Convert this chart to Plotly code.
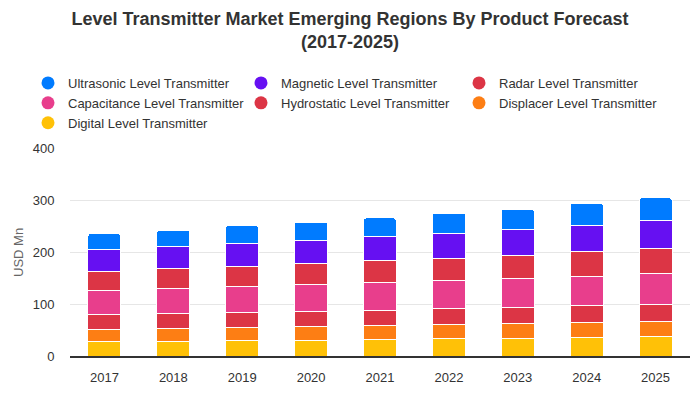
import plotly.graph_objects as go

years = ["2017", "2018", "2019", "2020", "2021", "2022", "2023", "2024", "2025"]

digital = [28.2, 27.6, 29.5, 29.5, 31.4, 34.0, 34.6, 36.5, 37.8]
displacer = [23.1, 25.6, 25.6, 26.9, 27.6, 26.9, 28.2, 28.2, 28.9]
hydrostatic = [28.8, 28.2, 28.9, 29.5, 28.8, 30.8, 30.8, 32.7, 32.7]
capacitance = [46.2, 48.1, 49.3, 51.3, 53.9, 53.8, 55.8, 55.8, 59.6]
radar = [36.5, 38.4, 38.5, 41.0, 42.3, 42.3, 44.2, 48.1, 48.1]
magnetic = [42.3, 43.0, 44.9, 44.2, 46.1, 48.1, 50.0, 50.0, 53.8]
ultrasonic = [30.2, 31.4, 33.9, 35.3, 35.3, 39.1, 39.1, 42.9, 43.6]

y_title = "USD Mn"

# stacking order bottom -> top
stack = [
    ("Digital Level Transmitter", digital, "#ffc107"),
    ("Displacer Level Transmitter", displacer, "#fd7e14"),
    ("Hydrostatic Level Transmitter", hydrostatic, "#dc3545"),
    ("Capacitance Level Transmitter", capacitance, "#e83e8c"),
    ("Radar Level Transmitter", radar, "#dc3545"),
    ("Magnetic Level Transmitter", magnetic, "#6610f2"),
    ("Ultrasonic Level Transmitter", ultrasonic, "#007bff"),
]
# legend columns (reading order left->right, top->bottom)
legend_columns = [
    ["Ultrasonic Level Transmitter", "Capacitance Level Transmitter", "Digital Level Transmitter"],
    ["Magnetic Level Transmitter", "Hydrostatic Level Transmitter"],
    ["Radar Level Transmitter", "Displacer Level Transmitter"],
]

fig = go.Figure()
for name, vals, col in stack:
    fig.add_trace(go.Bar(x=years, y=vals, name=name, marker=dict(color=col, line=dict(color="white", width=1)),
                         showlegend=False))

colors = {n: c for n, _, c in stack}
legend_ids = ["legend", "legend2", "legend3"]
for lid, names in zip(legend_ids, legend_columns):
    for name in names:
        fig.add_trace(go.Scatter(x=[None], y=[None], mode="markers", name=name, legend=lid,
                                 marker=dict(color=colors[name], size=13, symbol="circle")))

legend_x = [28, 241, 459]
legend_common = dict(orientation="v", xref="container", yref="container", y=1 - 68 / 400,
                     xanchor="left", yanchor="top", font=dict(size=13, color="#333333"),
                     traceorder="normal", tracegroupgap=0, bgcolor="rgba(0,0,0,0)")

fig.update_layout(
    width=700, height=400,
    margin=dict(l=70, r=10, t=148, b=44, autoexpand=False),
    paper_bgcolor="white", plot_bgcolor="white",
    font=dict(family="Liberation Sans, Arial, sans-serif", size=13, color="#333333"),
    barmode="stack", bargap=0.52, barcornerradius=3,
    title=dict(text="<b>Level Transmitter Market Emerging Regions By Product Forecast<br>(2017-2025)</b>",
               x=0.5, xref="container", xanchor="center", y=0.9375, yref="container", yanchor="top",
               font=dict(family="Liberation Sans, Arial, sans-serif", size=18, color="#333333")),
    legend=dict(x=legend_x[0] / 700, **legend_common),
    legend2=dict(x=legend_x[1] / 700, **legend_common),
    legend3=dict(x=legend_x[2] / 700, **legend_common),
    showlegend=True,
    annotations=[dict(text=y_title, textangle=-90, xref="paper", yref="paper", x=-52 / 620, y=0.5,
                      xanchor="center", yanchor="middle", showarrow=False,
                      font=dict(size=13, color="#666666"))],
)
fig.update_yaxes(range=[0, 400], dtick=100, showgrid=True, gridcolor="#e6e6e6", gridwidth=1,
                 zeroline=False, showline=False, automargin=False,
                 ticks="outside", ticklen=12, tickcolor="rgba(0,0,0,0)",
                 tickfont=dict(size=13, color="#333333"))
fig.update_xaxes(showline=True, linecolor="#333333", linewidth=2, showgrid=False, automargin=False,
                 ticks="outside", ticklen=8, tickcolor="rgba(0,0,0,0)",
                 tickfont=dict(size=13, color="#333333"))

fig.write_html("out.html", config={"displayModeBar": False},
               post_script="document.body.style.margin='0';")
